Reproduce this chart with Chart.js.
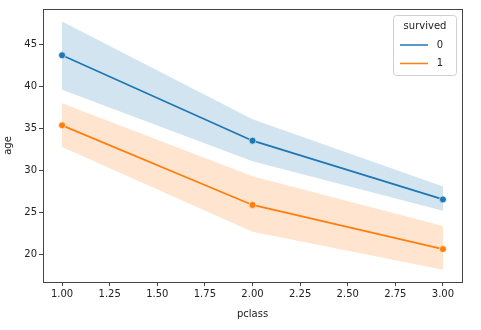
<!DOCTYPE html>
<html>
<head>
<meta charset="utf-8">
<script src="https://cdn.jsdelivr.net/npm/chart.js@4/dist/chart.umd.min.js"></script>
<style>
html,body{margin:0;padding:0;background:#fff;}
#wrap{width:481px;height:330px;position:relative;}
</style>
</head>
<body>
<div id="wrap"><canvas id="c" width="481" height="330"></canvas></div>
<script>
const pclass = [1, 2, 3];
const died = [43.70, 33.54, 26.56];
const diedLow = [39.6, 31.1, 25.2];
const diedHigh = [47.7, 36.1, 28.1];
const survived = [35.37, 25.90, 20.65];
const survivedLow = [32.8, 22.7, 18.2];
const survivedHigh = [38.0, 29.3, 23.4];
const xTicks = [1.00, 1.25, 1.50, 1.75, 2.00, 2.25, 2.50, 2.75, 3.00];
const yTicks = [20, 25, 30, 35, 40, 45];
const seriesNames = ['0', '1'];
const legendTitle = 'survived';

const BLUE = '#1f77b4', ORANGE = '#ff7f0e';
const pts = arr => pclass.map((x, i) => ({x: x, y: arr[i]}));
const FONT = "'DejaVu Sans', sans-serif";

const frame = {
  id: 'frame',
  afterDraw(chart) {
    const {ctx, chartArea: a} = chart;
    ctx.save();
    ctx.strokeStyle = '#444';
    ctx.lineWidth = 1;
    ctx.strokeRect(Math.round(a.left) + 0.5, Math.round(a.top) + 0.5,
      Math.round(a.right - a.left), Math.round(a.bottom - a.top));
    // legend
    const bx = 393, by = 15, bw = 63, bh = 60;
    ctx.fillStyle = 'rgba(255,255,255,0.8)';
    ctx.strokeStyle = '#d0d0d0';
    ctx.lineWidth = 1;
    ctx.beginPath();
    if (ctx.roundRect) ctx.roundRect(bx + 0.5, by + 0.5, bw, bh, 3); else ctx.rect(bx + 0.5, by + 0.5, bw, bh);
    ctx.fill(); ctx.stroke();
    ctx.fillStyle = '#222';
    ctx.font = '10px ' + FONT;
    ctx.textAlign = 'center';
    ctx.textBaseline = 'middle';
    ctx.fillText(legendTitle, bx + bw / 2 + 0.5, 26);
    const cols = [BLUE, ORANGE];
    const ys = [45, 63.5];
    for (let i = 0; i < 2; i++) {
      ctx.strokeStyle = cols[i];
      ctx.lineWidth = 1.5;
      ctx.beginPath();
      ctx.moveTo(400, ys[i]); ctx.lineTo(428, ys[i]); ctx.stroke();
      ctx.fillStyle = '#222';
      ctx.textAlign = 'center';
      ctx.fillText(seriesNames[i], 440, ys[i]);
    }
    ctx.restore();
  }
};

new Chart(document.getElementById('c'), {
  type: 'line',
  data: {
    datasets: [
      {data: pts(diedLow), borderWidth: 0, pointRadius: 0, fill: false, backgroundColor: 'rgba(31,119,180,0.2)', borderColor: 'rgba(0,0,0,0)'},
      {data: pts(diedHigh), borderWidth: 0, pointRadius: 0, fill: '-1', backgroundColor: 'rgba(31,119,180,0.2)', borderColor: 'rgba(0,0,0,0)'},
      {data: pts(survivedLow), borderWidth: 0, pointRadius: 0, fill: false, backgroundColor: 'rgba(255,127,14,0.2)', borderColor: 'rgba(0,0,0,0)'},
      {data: pts(survivedHigh), borderWidth: 0, pointRadius: 0, fill: '-1', backgroundColor: 'rgba(255,127,14,0.2)', borderColor: 'rgba(0,0,0,0)'},
      {label: seriesNames[0], data: pts(died), borderColor: BLUE, backgroundColor: BLUE, borderWidth: 1.8, pointRadius: 3.5, pointBorderColor: '#fff', pointBorderWidth: 0.8, pointBackgroundColor: BLUE, fill: false},
      {label: seriesNames[1], data: pts(survived), borderColor: ORANGE, backgroundColor: ORANGE, borderWidth: 1.8, pointRadius: 3.5, pointBorderColor: '#fff', pointBorderWidth: 0.8, pointBackgroundColor: ORANGE, fill: false}
    ]
  },
  options: {
    responsive: false,
    animation: false,
    devicePixelRatio: 1,
    layout: {padding: {top: 9, right: 19, left: 0, bottom: 0}},
    plugins: {legend: {display: false}, tooltip: {enabled: false}},
    scales: {
      x: {
        type: 'linear', min: 0.9, max: 3.1,
        afterBuildTicks: s => { s.ticks = xTicks.map(v => ({value: v})); },
        afterFit: s => { s.height = 48; },
        grid: {display: true, drawOnChartArea: false, drawTicks: true, tickLength: 4, color: '#444'},
        border: {display: false},
        ticks: {color: '#222', font: {family: FONT, size: 10}, padding: 2, maxRotation: 0, autoSkip: false, callback: v => Number(v).toFixed(2)},
        title: {display: true, text: 'pclass', color: '#222', font: {family: FONT, size: 10}, padding: {top: 0, bottom: 10}}
      },
      y: {
        type: 'linear', min: 16.74, max: 49.2,
        afterBuildTicks: s => { s.ticks = yTicks.map(v => ({value: v})); },
        afterFit: s => { s.width = 43; },
        grid: {display: true, drawOnChartArea: false, drawTicks: true, tickLength: 4, color: '#444'},
        border: {display: false},
        ticks: {color: '#222', font: {family: FONT, size: 10}, padding: 2, autoSkip: false, callback: v => String(v)},
        title: {display: true, text: 'age', color: '#222', font: {family: FONT, size: 10}, padding: {top: 2, bottom: 0}}
      }
    }
  },
  plugins: [frame]
});
</script>
</body>
</html>
